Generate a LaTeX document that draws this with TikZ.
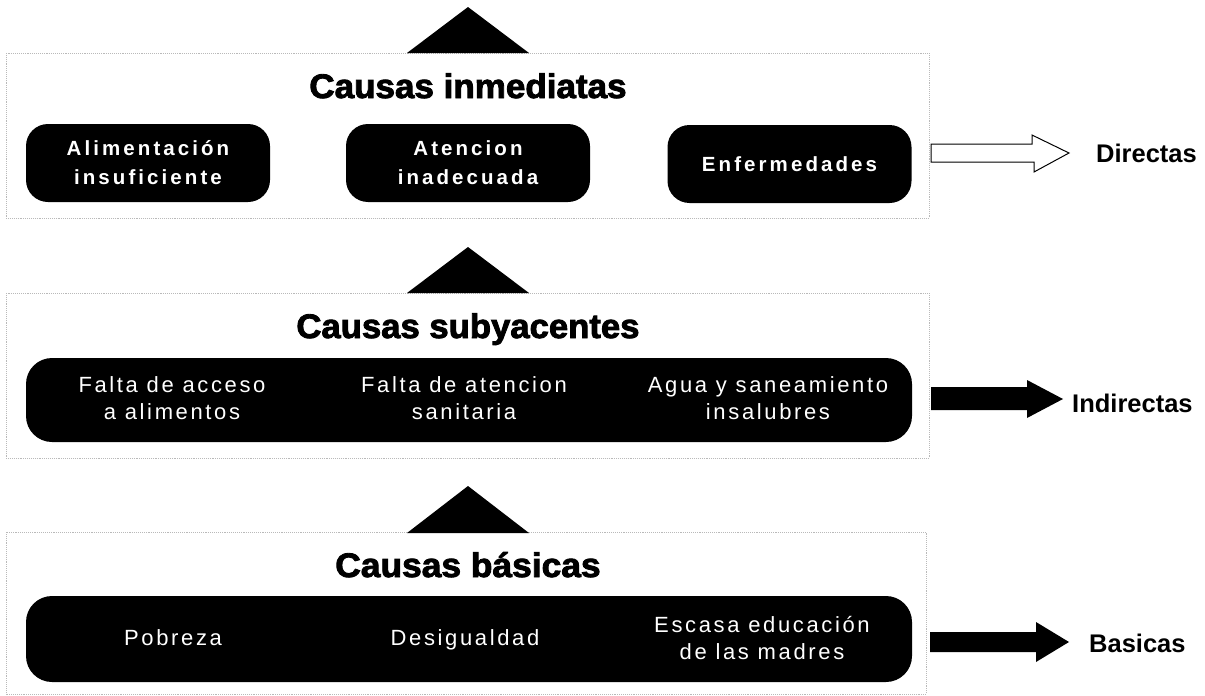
\documentclass[tikz,border=0pt]{standalone}
\usepackage{fontspec}
\setmainfont{Liberation Sans}
\newfontfamily\titlefont[BoldFeatures={FakeBold=2.5}]{Liberation Sans}
\newfontfamily\topboxfont[LetterSpace=15]{Liberation Sans}
\newfontfamily\boxfont[LetterSpace=12]{Liberation Sans}
\newfontfamily\labelfont{Liberation Sans}
\begin{document}
\begin{tikzpicture}[x=1pt,y=-1pt,
  frame/.style={draw=gray!55, densely dotted, line width=0.9pt},
  cbox/.style={fill=black, text=white, align=center, inner sep=0pt},
  topbox/.style={cbox, rounded corners=22pt, minimum width=244pt, minimum height=78pt,
    font=\topboxfont\bfseries\fontsize{20.5}{29}\selectfont},
  widebox/.style={cbox, rounded corners=26pt, minimum width=886pt},
  boxtext/.style={text=white, align=center, inner sep=0pt,
    font=\boxfont\fontsize{22}{27}\selectfont},
  title/.style={anchor=base, inner sep=0pt, font=\titlefont\bfseries\fontsize{34}{40}\selectfont},
  side/.style={anchor=base west, inner sep=0pt, font=\labelfont\bfseries\fontsize{25.5}{30}\selectfont},
  tri/.style={fill=black},
  blockarrow/.style={fill=black},
  hollowarrow/.style={draw=black, line width=1pt, fill=white}]
\useasboundingbox (0,0) rectangle (1205,696);

% ---------- frames ----------
\draw[frame] (6,53) rectangle (929,218);
\draw[frame] (6,293) rectangle (929,458);
\draw[frame] (6,532) rectangle (926,694);

% ---------- triangles ----------
\fill[tri] (407,53) -- (468,7) -- (529,53) -- cycle;
\fill[tri] (407,293) -- (468,247) -- (529,293) -- cycle;
\fill[tri] (407,533) -- (468,486) -- (529,533) -- cycle;

% ---------- row 1 ----------
\node[title] (t1) at (468,98) {\scalebox{1.03}[1]{Causas inmediatas}};
\node[topbox] (alim) at (148,163) {Alimentación\\insuficiente};
\node[topbox] (aten) at (468,163) {Atencion\\inadecuada};
\node[topbox] (enf) at (789.5,164) {Enfermedades};
\node[side] (dir) at (1096,162) {Directas};
\draw[hollowarrow] (931,144) -- (1032,144) -- (1032,135) -- (1069,153) -- (1034,172) -- (1034,162) -- (931,162) -- cycle;

% ---------- row 2 ----------
\node[title] (t2) at (468,338) {\scalebox{1.02}[1]{Causas subyacentes}};
\node[widebox, minimum height=84pt] (b2) at (469,400) {};
\node[boxtext] (fa) at (172,398) {Falta de acceso\\a alimentos};
\node[boxtext] (fs) at (464,398) {Falta de atencion\\sanitaria};
\node[boxtext] (ag) at (768,398) {Agua y saneamiento\\insalubres};
\node[side] (ind) at (1072,412) {Indirectas};
\fill[blockarrow] (931,387) -- (1027,387) -- (1027,380) -- (1063,399) -- (1027,418) -- (1027,410) -- (931,410) -- cycle;

% ---------- row 3 ----------
\node[title] (t3) at (468,577) {\scalebox{1.04}[1]{Causas básicas}};
\node[widebox, minimum height=86pt] (b3) at (469,639) {};
\node[boxtext, anchor=base] (pob) at (173,645) {Pobreza};
\node[boxtext, anchor=base] (des) at (465,645) {Desigualdad};
\node[boxtext] (esc) at (762,638) {Escasa educación\\de las madres};
\node[side] (bas) at (1089,652) {Basicas};
\fill[blockarrow] (930,632) -- (1036,632) -- (1036,622) -- (1069,642) -- (1036,662) -- (1036,652) -- (930,652) -- cycle;
\end{tikzpicture}
\end{document}
